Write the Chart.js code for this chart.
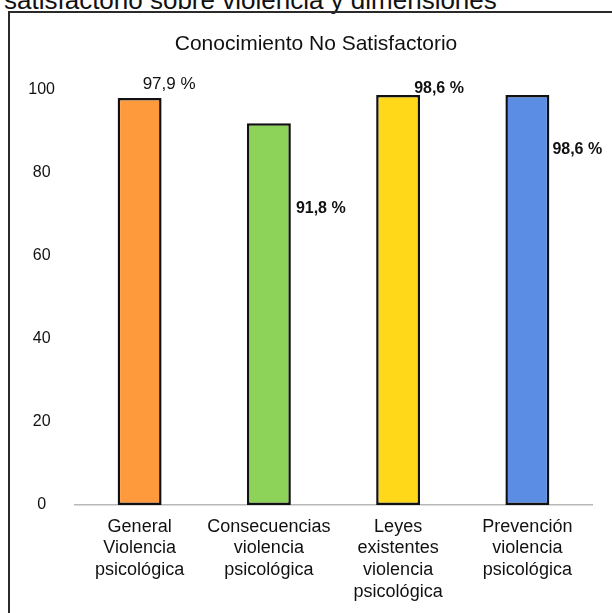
<!DOCTYPE html>
<html>
<head>
<meta charset="utf-8">
<script src="https://cdn.jsdelivr.net/npm/chart.js@4.4.0/dist/chart.umd.min.js"></script>
<style>
  html, body { margin: 0; padding: 0; background: #fff; overflow: hidden; }
  #wrap { position: relative; width: 612px; height: 613px; }
  #caption {
    position: absolute; left: 4px; top: -15px;
    font: 26px "Liberation Sans", Arial, sans-serif; color: #111; white-space: nowrap;
  }
  #box {
    position: absolute; left: 8px; top: 11px; width: 640px; height: 640px;
    border: 2px solid #2a2a2a; box-sizing: border-box;
  }
  canvas { position: absolute; left: 0; top: 0; }
</style>
</head>
<body>
<div id="wrap">
  <div id="caption">satisfactorio sobre violencia y dimensiones</div>
  <div id="box"></div>
  <canvas id="chart" width="612" height="613"></canvas>
</div>
<script>
const categories = [
  ['General', 'Violencia', 'psicológica'],
  ['Consecuencias', 'violencia', 'psicológica'],
  ['Leyes', 'existentes', 'violencia', 'psicológica'],
  ['Prevención', 'violencia', 'psicológica'],
];
const values = [97.9, 91.8, 98.6, 98.6];
const valueLabels = ['97,9 %', '91,8 %', '98,6 %', '98,6 %'];
const barColors = ['#FF9A3C', '#8DD35A', '#FFD81A', '#5B8DE4'];
const yTicks = [0, 20, 40, 60, 80, 100];

// where each value label sits, relative to the bar's top centre
const labelOffsets = [[3, -14], [27, 85], [16, -6], [25, 55]];
const labelFonts = [
  'normal 17px "Liberation Sans", Arial, sans-serif',
  'bold 16px "Liberation Sans", Arial, sans-serif',
  'bold 16px "Liberation Sans", Arial, sans-serif',
  'bold 16px "Liberation Sans", Arial, sans-serif',
];

const valueLabelPlugin = {
  id: 'valueLabels',
  afterLayout(chart) {
    // title in the original sits a bit right of the canvas centre
    if (chart.titleBlock) chart.titleBlock.left += 40;
  },
  afterDatasetsDraw(chart) {
    const ctx = chart.ctx;
    const meta = chart.getDatasetMeta(0);
    ctx.save();
    ctx.fillStyle = '#111';
    ctx.textAlign = 'left';
    ctx.textBaseline = 'middle';
    meta.data.forEach((bar, i) => {
      const [dx, dy] = labelOffsets[i];
      ctx.font = labelFonts[i];
      ctx.fillText(valueLabels[i], bar.x + dx, bar.y + dy);
    });
    ctx.restore();
  }
};

new Chart(document.getElementById('chart'), {
  type: 'bar',
  data: {
    labels: categories,
    datasets: [{
      data: values,
      backgroundColor: barColors,
      borderColor: '#111',
      borderWidth: 2.5,
      borderSkipped: false,
      categoryPercentage: 1,
      barPercentage: 0.34,
    }],
  },
  options: {
    responsive: false,
    animation: false,
    devicePixelRatio: 1,
    layout: { padding: { left: 0, right: 20, top: 0, bottom: 0 } },
    plugins: {
      legend: { display: false },
      tooltip: { enabled: false },
      title: {
        display: true,
        text: 'Conocimiento No Satisfactorio',
        color: '#111',
        font: { family: '"Liberation Sans", Arial, sans-serif', size: 21, weight: 'normal', lineHeight: 1.2 },
        padding: { top: 32, bottom: 32 },
      },
    },
    scales: {
      x: {
        grid: { display: false, drawTicks: false },
        border: { display: true, color: '#b8b8b8', width: 1.5 },
        ticks: {
          color: '#111',
          padding: 11,
          maxRotation: 0,
          autoSkip: false,
          font: { family: '"Liberation Sans", Arial, sans-serif', size: 18, lineHeight: 1.2 },
        },
        afterFit(scale) { scale.height = 108; },
      },
      y: {
        min: 0,
        max: 100,
        grid: { display: false, drawTicks: false },
        border: { display: false },
        afterBuildTicks(scale) { scale.ticks = yTicks.map(v => ({ value: v })); },
        ticks: {
          color: '#111',
          padding: 20,
          crossAlign: 'center',
          font: { family: '"Liberation Sans", Arial, sans-serif', size: 16 },
        },
        afterFit(scale) { scale.width = 75; },
      },
    },
  },
  plugins: [valueLabelPlugin],
});
</script>
</body>
</html>
